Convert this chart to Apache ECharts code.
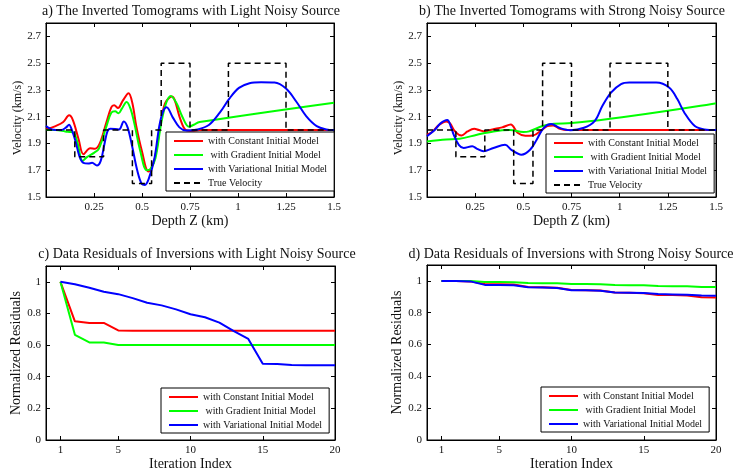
<!DOCTYPE html>
<html><head><meta charset="utf-8">
<script src="https://cdn.jsdelivr.net/npm/echarts@6/dist/echarts.min.js"></script>
<style>html,body{margin:0;padding:0;background:#fff}#c{width:737px;height:474px}</style>
</head><body><div id="c"></div>
<script>
// ---------- labels ----------
const seriesNames = ['with Constant Initial Model', ' with Gradient Initial Model', 'with Variational Initial Model', 'True Velocity'];
const panelTitles = [
  'a) The Inverted Tomograms with Light Noisy Source',
  'b) The Inverted Tomograms with Strong Noisy Source',
  'c) Data Residuals of Inversions with Light Noisy Source',
  'd) Data Residuals of Inversions with Strong Noisy Source'
];
const depthName = 'Depth Z (km)';
const velName = 'Velocity (km/s)';
const iterName = 'Iteration Index';
const resName = 'Normalized Residuals';
const iterTicks = [1, 5, 10, 15, 20];

// ---------- true velocity (step model) ----------
const trueZ = [0, 0.15, 0.15, 0.30, 0.30, 0.45, 0.45, 0.55, 0.55, 0.60, 0.60, 0.75, 0.75, 0.95, 0.95, 1.25, 1.25, 1.5];
const trueV = [2.0, 2.0, 1.8, 1.8, 2.0, 2.0, 1.6, 1.6, 2.0, 2.0, 2.5, 2.5, 2.0, 2.0, 2.5, 2.5, 2.0, 2.0];

// ---------- panel a: light noise ----------
const aRedZ = [0, 0.05, 0.09, 0.12, 0.14, 0.17, 0.195, 0.23, 0.255, 0.28, 0.315, 0.34, 0.355, 0.375, 0.40, 0.43, 0.45, 0.47, 0.50, 0.533, 0.565, 0.595, 0.62, 0.655, 0.70, 0.725, 0.76, 0.8, 1.5];
const aRedV = [2.005, 2.03, 2.06, 2.11, 2.075, 1.93, 1.82, 1.865, 1.86, 1.90, 2.06, 2.17, 2.185, 2.165, 2.22, 2.275, 2.2, 2.03, 1.84, 1.69, 1.78, 2.03, 2.2, 2.25, 2.08, 2.005, 1.995, 2.0, 2.0];
const aGreenZ = [0, 0.05, 0.1, 0.13, 0.145, 0.165, 0.19, 0.215, 0.25, 0.275, 0.315, 0.34, 0.36, 0.378, 0.395, 0.42, 0.44, 0.46, 0.49, 0.525, 0.545, 0.57, 0.60, 0.625, 0.65, 0.68, 0.71, 0.745, 0.77, 0.80, 1.5];
const aGreenV = [2.0, 2.0, 1.99, 1.985, 1.98, 1.9, 1.77, 1.8, 1.83, 1.86, 2.03, 2.13, 2.14, 2.125, 2.16, 2.21, 2.16, 2.05, 1.85, 1.70, 1.71, 1.79, 2.05, 2.2, 2.255, 2.2, 2.1, 2.025, 2.04, 2.06, 2.205];
const aBlueZ = [0, 0.03, 0.08, 0.105, 0.12, 0.135, 0.155, 0.175, 0.195, 0.22, 0.24, 0.265, 0.285, 0.305, 0.32, 0.335, 0.38, 0.405, 0.425, 0.45, 0.475, 0.50, 0.515, 0.535, 0.565, 0.59, 0.61, 0.628, 0.66, 0.695, 0.73, 0.79, 0.85, 0.905, 0.955, 1.005, 1.06, 1.12, 1.19, 1.25, 1.305, 1.355, 1.41, 1.46, 1.5];
const aBlueV = [2.03, 2.005, 2.0, 2.02, 2.04, 2.0, 1.91, 1.80, 1.755, 1.75, 1.755, 1.735, 1.77, 1.90, 1.99, 2.01, 2.005, 2.065, 2.02, 1.87, 1.70, 1.595, 1.59, 1.635, 1.79, 2.03, 2.14, 2.17, 2.095, 2.02, 1.997, 2.005, 2.04, 2.13, 2.235, 2.315, 2.35, 2.357, 2.355, 2.31, 2.21, 2.105, 2.03, 2.005, 2.0];

// ---------- panel b: strong noise ----------
const bRedZ = [0, 0.03, 0.06, 0.1, 0.12, 0.14, 0.165, 0.18, 0.21, 0.245, 0.27, 0.3, 0.34, 0.39, 0.435, 0.47, 0.51, 0.55, 0.595, 0.625, 0.655, 0.69, 0.73, 0.8, 1.5];
const bRedV = [1.965, 1.99, 2.035, 2.065, 2.05, 2.0, 1.965, 1.96, 1.99, 2.01, 2.0, 1.99, 2.005, 2.02, 2.042, 1.98, 1.958, 1.96, 2.0, 2.03, 2.035, 2.01, 2.0, 2.0, 2.0];
const bGreenZ = [0, 0.1, 0.17, 0.26, 0.345, 0.43, 0.5, 0.53, 0.6, 0.66, 0.75, 1.5];
const bGreenV = [1.915, 1.93, 1.935, 1.965, 1.99, 2.0, 1.985, 1.99, 2.03, 2.048, 2.052, 2.2];
const bBlueZ = [0, 0.04, 0.07, 0.105, 0.125, 0.14, 0.165, 0.19, 0.235, 0.26, 0.293, 0.345, 0.405, 0.44, 0.49, 0.535, 0.57, 0.605, 0.645, 0.69, 0.745, 0.815, 0.87, 0.91, 0.955, 1.007, 1.05, 1.19, 1.258, 1.30, 1.336, 1.39, 1.44, 1.5];
const bBlueV = [1.955, 2.0, 2.05, 2.075, 2.02, 1.96, 1.89, 1.866, 1.879, 1.86, 1.842, 1.866, 1.89, 1.85, 1.816, 1.853, 1.93, 2.015, 2.045, 2.015, 1.998, 2.017, 2.067, 2.18, 2.28, 2.344, 2.355, 2.355, 2.316, 2.23, 2.13, 2.03, 2.005, 2.0];

// ---------- panels c, d: residuals per iteration ----------
const iterIdx = [1, 2, 3, 4, 5, 6, 7, 8, 9, 10, 11, 12, 13, 14, 15, 16, 17, 18, 19, 20];
const cRed = [1.0, 0.75, 0.74, 0.74, 0.693, 0.691, 0.691, 0.691, 0.691, 0.691, 0.691, 0.691, 0.691, 0.691, 0.691, 0.691, 0.691, 0.691, 0.691, 0.691];
const cGreen = [1.0, 0.665, 0.617, 0.616, 0.601, 0.6, 0.6, 0.6, 0.6, 0.6, 0.6, 0.6, 0.6, 0.6, 0.6, 0.6, 0.6, 0.6, 0.6, 0.6];
const cBlue = [1.0, 0.985, 0.963, 0.937, 0.922, 0.897, 0.868, 0.851, 0.826, 0.795, 0.776, 0.742, 0.688, 0.639, 0.482, 0.481, 0.474, 0.473, 0.472, 0.472];
const dRed = [1.0, 1.0, 0.997, 0.98, 0.979, 0.977, 0.962, 0.96, 0.957, 0.943, 0.942, 0.94, 0.927, 0.925, 0.923, 0.912, 0.911, 0.909, 0.898, 0.896];
const dGreen = [1.0, 1.0, 0.999, 0.993, 0.993, 0.992, 0.987, 0.986, 0.985, 0.981, 0.98, 0.979, 0.974, 0.973, 0.972, 0.968, 0.967, 0.966, 0.962, 0.961];
const dBlue = [1.0, 1.0, 0.997, 0.975, 0.975, 0.972, 0.96, 0.958, 0.955, 0.942, 0.941, 0.938, 0.927, 0.926, 0.924, 0.917, 0.915, 0.913, 0.908, 0.907];

// ---------- build ----------
const FONT = 'Liberation Serif';
const TXT = '#111';
const colors = ['#ff0000', '#00ff00', '#0000ff', '#000000'];
const zip = (xs, ys) => xs.map((x, i) => [x, ys[i]]);

const grids = [
  {left: 46, top: 23, width: 288, height: 174},
  {left: 427, top: 23, width: 289, height: 174},
  {left: 46, top: 266, width: 289, height: 174},
  {left: 427, top: 265, width: 289, height: 175}
];
grids.forEach(g => { g.show = true; g.borderColor = '#000'; g.borderWidth = 1; g.backgroundColor = 'transparent'; });

const xAxes = [], yAxes = [], series = [], legends = [];
const baseAxis = {
  axisLine: {show: true, onZero: false, lineStyle: {color: '#000', width: 1}},
  axisTick: {show: true, inside: true, length: 4, lineStyle: {color: '#000', width: 1}},
  splitLine: {show: false},
  axisLabel: {color: TXT, fontFamily: FONT, fontSize: 11, margin: 5}
};
function nameStyle(sz, pad) { return {fontFamily: FONT, fontSize: sz, color: TXT, padding: pad || 0}; }

for (let i = 0; i < 4; i++) {
  const tomo = i < 2;
  const xCommon = tomo ? {min: 0, max: 1.5, interval: 0.25} : {min: 0, max: 20};
  const yCommon = tomo ? {min: 1.5, max: 2.8, interval: 0.2} : {min: 0, max: 1.1, interval: 0.2};
  xAxes.push(Object.assign({}, baseAxis, xCommon, {
    type: 'value', gridIndex: i, position: 'bottom',
    name: tomo ? depthName : iterName, nameLocation: 'middle', nameGap: tomo ? 15 : 14, nameTextStyle: nameStyle(14),
    axisLabel: Object.assign({}, baseAxis.axisLabel, tomo ? {showMinLabel: false} : {customValues: iterTicks}),
    axisTick: Object.assign({}, baseAxis.axisTick, tomo ? {} : {customValues: iterTicks})
  }));
  xAxes.push(Object.assign({}, baseAxis, xCommon, {
    type: 'value', gridIndex: i, position: 'top',
    axisLabel: {show: false, customValues: tomo ? undefined : iterTicks},
    axisTick: Object.assign({}, baseAxis.axisTick, tomo ? {} : {customValues: iterTicks})
  }));
  yAxes.push(Object.assign({}, baseAxis, yCommon, {
    type: 'value', gridIndex: i, position: 'left',
    name: tomo ? velName : resName, nameLocation: 'middle', nameGap: 18,
    nameTextStyle: tomo ? nameStyle(12, [0, 16, 0, 0]) : nameStyle(14),
    axisLabel: Object.assign({}, baseAxis.axisLabel, {showMaxLabel: false})
  }));
  yAxes.push(Object.assign({}, baseAxis, yCommon, {
    type: 'value', gridIndex: i, position: 'right',
    axisLabel: {show: false}
  }));
}

function addLine(panel, k, data, smooth) {
  series.push({
    type: 'line', name: seriesNames[k], xAxisIndex: panel * 2, yAxisIndex: panel * 2,
    data: data, symbol: 'none', smooth: smooth ? 0.35 : false, clip: true,
    lineStyle: {color: colors[k], width: k === 3 ? 1.5 : 2, type: k === 3 ? [6, 4] : 'solid'},
    itemStyle: {color: colors[k]}, z: 2 + k
  });
}
addLine(0, 0, zip(aRedZ, aRedV), true);
addLine(0, 1, zip(aGreenZ, aGreenV), true);
addLine(0, 2, zip(aBlueZ, aBlueV), true);
addLine(0, 3, zip(trueZ, trueV), false);
addLine(1, 0, zip(bRedZ, bRedV), true);
addLine(1, 1, zip(bGreenZ, bGreenV), true);
addLine(1, 2, zip(bBlueZ, bBlueV), true);
addLine(1, 3, zip(trueZ, trueV), false);
addLine(2, 0, zip(iterIdx, cRed), false);
addLine(2, 1, zip(iterIdx, cGreen), false);
addLine(2, 2, zip(iterIdx, cBlue), false);
addLine(3, 0, zip(iterIdx, dRed), false);
addLine(3, 1, zip(iterIdx, dGreen), false);
addLine(3, 2, zip(iterIdx, dBlue), false);

const legendPos = [
  {left: 166, top: 132, names: seriesNames},
  {left: 546, top: 134, names: seriesNames},
  {left: 161, top: 388, names: seriesNames.slice(0, 3)},
  {left: 541, top: 387, names: seriesNames.slice(0, 3)}
];
legendPos.forEach(p => legends.push({
  orient: 'vertical', left: p.left, top: p.top, data: p.names,
  backgroundColor: '#fff', borderColor: '#000', borderWidth: 1,
  padding: [4, 7, 3, 7], itemWidth: 29, itemHeight: 11, itemGap: 4, itemTextGap: 5,
  selectedMode: false,
  itemStyle: {opacity: 0, color: 'transparent', borderWidth: 0},
  textStyle: {fontFamily: FONT, fontSize: 10, color: TXT}
}));

const titlePos = [[191, 11], [572, 11], [197, 254], [571, 254]];
const graphic = panelTitles.map((t, i) => ({
  type: 'text', x: titlePos[i][0], y: titlePos[i][1], z: 10,
  style: {text: t, font: '14px "' + FONT + '"', fill: TXT, align: 'center', verticalAlign: 'middle'}
}));

const chart = echarts.init(document.getElementById('c'), null, {renderer: 'canvas'});
chart.setOption({
  animation: false,
  backgroundColor: '#fff',
  grid: grids, xAxis: xAxes, yAxis: yAxes, series: series, legend: legends, graphic: graphic
});
</script></body></html>
